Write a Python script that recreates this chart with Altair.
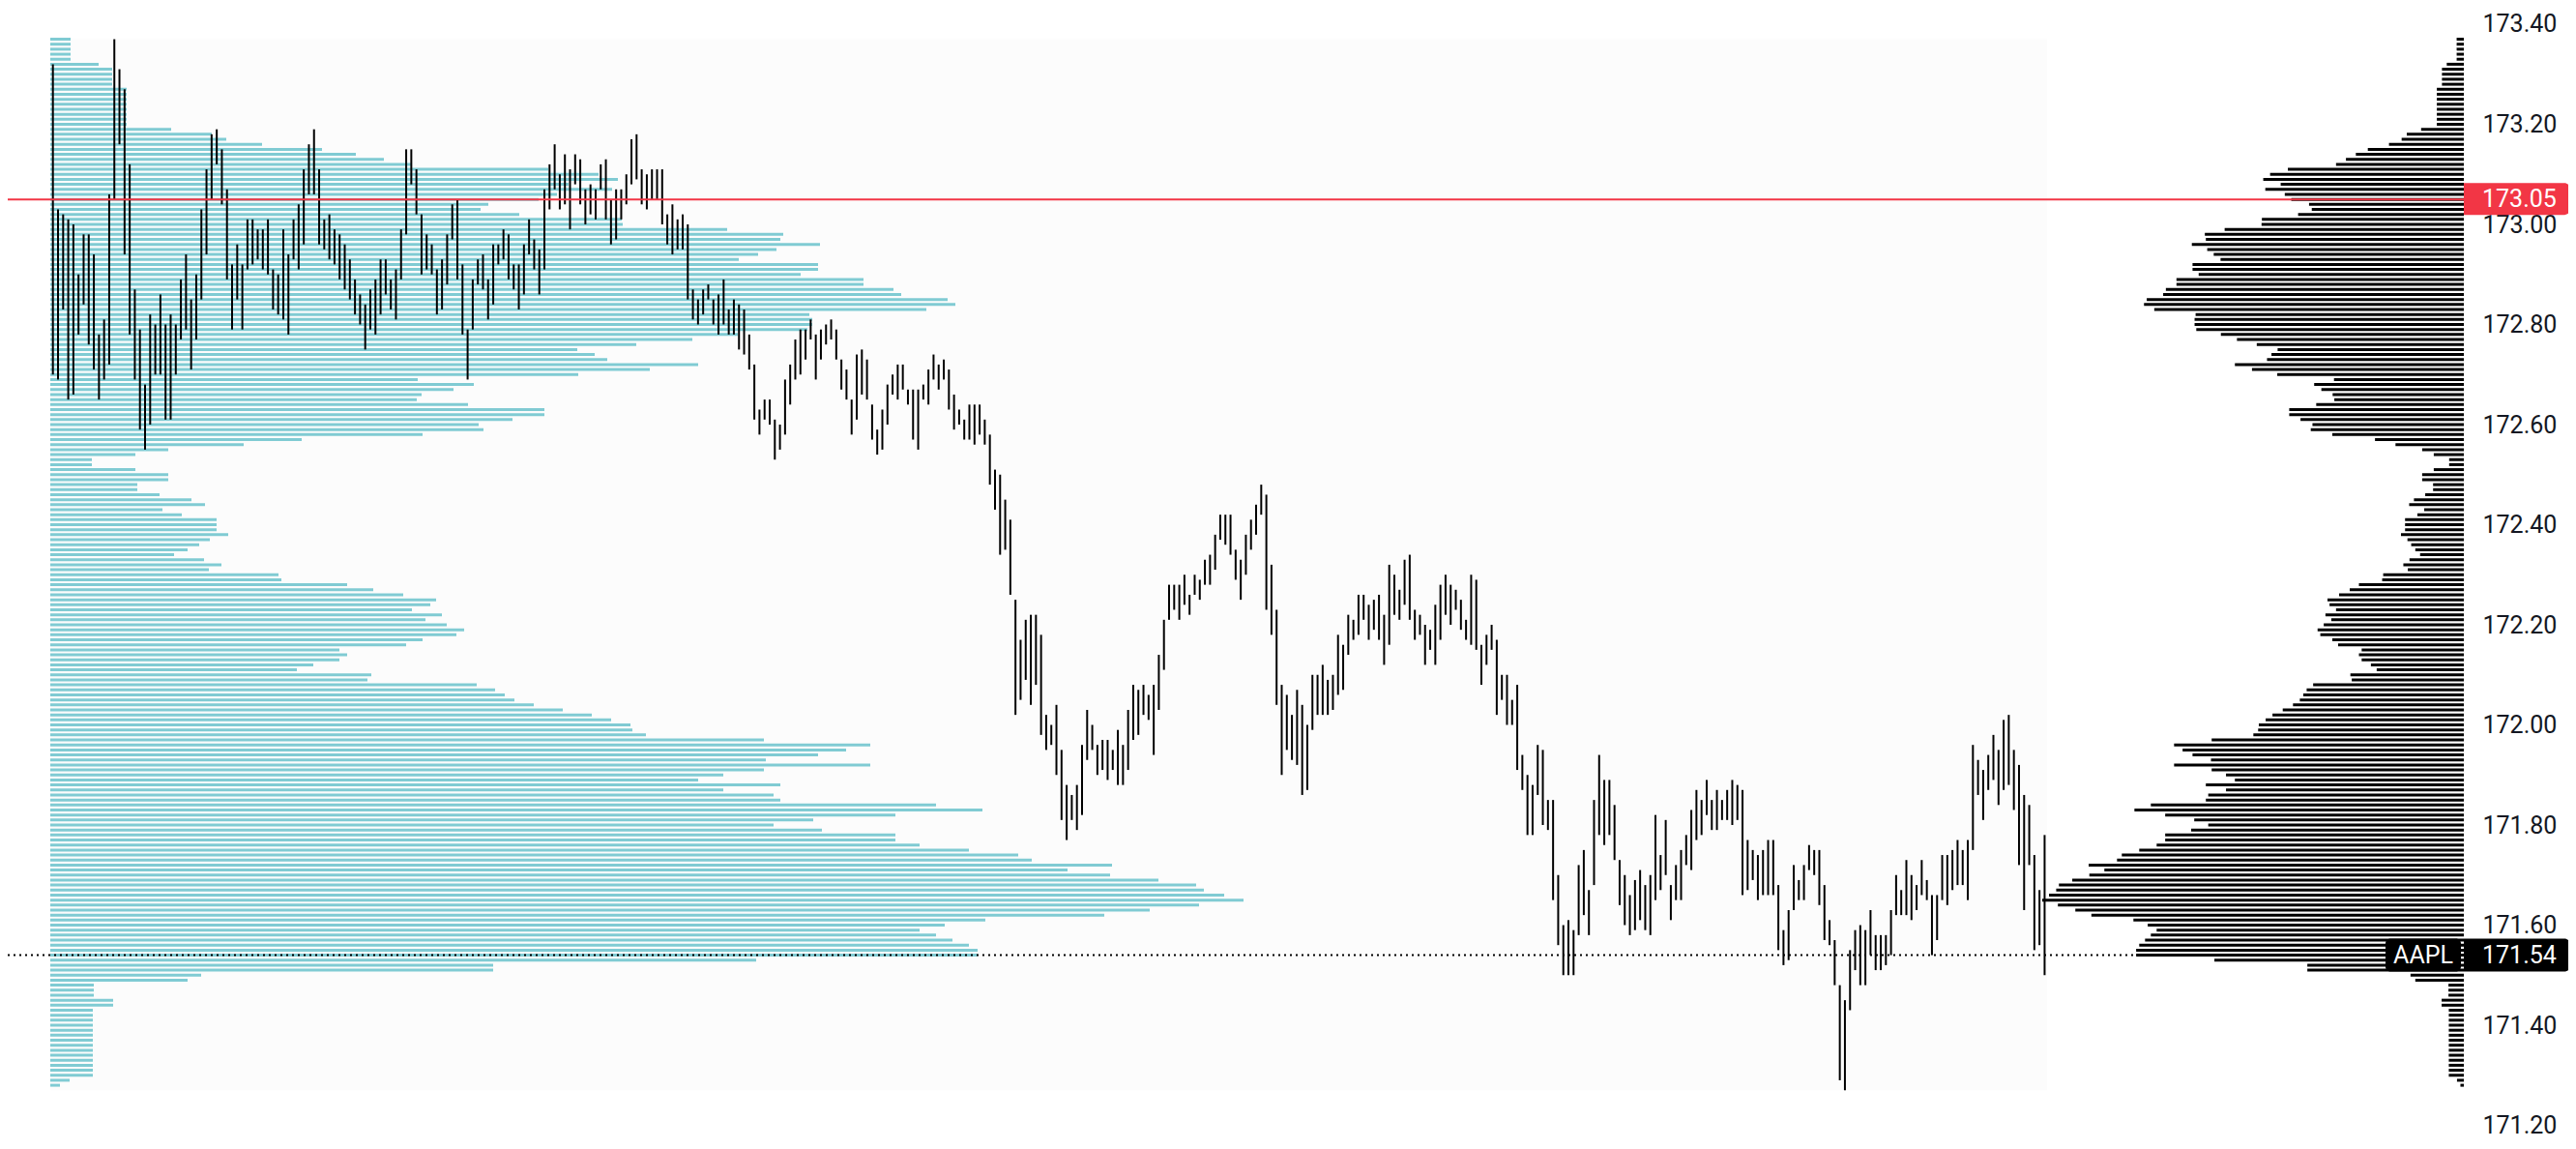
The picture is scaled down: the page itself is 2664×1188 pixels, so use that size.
import altair as alt
import pandas as pd
import numpy as np

# ---------------- data ----------------
highs = [173.32,173.03,173.02,173.01,173.00,172.90,172.98,172.98,172.94,172.78,
         172.81,173.06,173.37,173.31,173.27,173.12,172.87,172.79,172.68,172.82,
         172.80,172.86,172.80,172.82,172.80,172.89,172.94,172.85,172.90,173.03,
         173.11,173.18,173.19,173.15,173.07,172.92,172.96,172.92,173.01,173.01,
         172.99,172.99,173.01,172.91,172.90,172.99,172.94,173.01,173.04,173.11,
         173.16,173.19,173.11,173.01,173.02,172.99,172.98,172.96,172.93,172.89,
         172.86,172.84,172.87,172.89,172.93,172.93,172.89,172.91,172.99,173.15,
         173.15,173.11,173.02,172.98,172.96,172.91,172.93,172.98,173.04,173.05,
         172.92,172.79,172.89,172.93,172.94,172.89,172.96,172.96,172.99,172.98,
         172.92,172.92,172.96,173.01,172.97,172.95,173.07,173.12,173.16,173.10,
         173.14,173.11,173.14,173.13,173.07,173.08,173.07,173.12,173.13,173.05,
         173.07,173.07,173.10,173.17,173.18,173.11,173.10,173.11,173.11,173.11,
         173.02,173.04,173.01,173.02,173.00,172.87,172.85,172.87,172.88,172.85,
         172.86,172.89,172.83,172.85,172.84,172.83,172.78,172.72,172.63,172.65,
         172.65,172.61,172.60,172.69,172.72,172.77,172.79,172.79,172.81,172.78,
         172.79,172.80,172.81,172.79,172.73,172.71,172.65,172.74,172.75,172.73,
         172.64,172.59,172.63,172.68,172.70,172.72,172.72,172.67,172.67,172.67,
         172.68,172.71,172.74,172.72,172.73,172.71,172.66,172.63,172.61,172.64,
         172.64,172.64,172.61,172.58,172.51,172.50,172.45,172.41,172.25,172.17,
         172.21,172.22,172.22,172.18,172.02,172.00,172.04,171.95,171.88,171.86,
         171.88,171.96,172.03,172.00,171.96,171.97,171.97,171.95,171.99,171.96,
         172.03,172.08,172.07,172.08,172.06,172.08,172.14,172.21,172.28,172.28,
         172.28,172.30,172.26,172.30,172.29,172.33,172.34,172.38,172.42,172.42,
         172.42,172.35,172.33,172.38,172.41,172.44,172.48,172.46,172.32,172.23,
         172.08,172.06,172.02,172.07,172.04,172.00,172.10,172.10,172.12,172.09,
         172.10,172.18,172.16,172.22,172.21,172.26,172.26,172.24,172.25,172.26,
         172.22,172.32,172.30,172.27,172.33,172.34,172.23,172.22,172.20,172.19,
         172.24,172.28,172.30,172.28,172.27,172.25,172.21,172.30,172.29,172.16,
         172.18,172.20,172.17,172.10,172.10,172.05,172.08,171.94,171.90,171.88,
         171.96,171.95,171.85,171.85,171.70,171.60,171.61,171.59,171.72,171.75,
         171.67,171.85,171.94,171.89,171.89,171.84,171.73,171.70,171.66,171.69,
         171.71,171.68,171.70,171.82,171.74,171.81,171.68,171.72,171.75,171.78,
         171.83,171.87,171.85,171.89,171.85,171.87,171.85,171.87,171.89,171.88,
         171.87,171.77,171.75,171.74,171.75,171.77,171.77,171.68,171.59,171.63,
         171.72,171.69,171.72,171.76,171.75,171.75,171.68,171.61,171.57,171.48,
         171.45,171.55,171.59,171.60,171.59,171.63,171.58,171.58,171.58,171.63,
         171.70,171.67,171.73,171.70,171.68,171.73,171.69,171.66,171.66,171.74,
         171.74,171.75,171.77,171.75,171.77,171.96,171.93,171.91,171.94,171.98,
         171.95,172.01,172.02,171.95,171.92,171.86,171.84,171.74,171.67,171.78]

lows = [172.70,172.69,172.83,172.65,172.66,172.78,172.84,172.76,172.71,172.65,
        172.69,172.72,173.05,173.16,172.94,172.78,172.69,172.59,172.55,172.60,
        172.70,172.70,172.61,172.61,172.70,172.77,172.79,172.71,172.77,172.85,
        172.94,173.05,173.12,173.04,172.89,172.79,172.85,172.79,172.91,172.92,
        172.93,172.91,172.90,172.83,172.82,172.81,172.78,172.93,172.91,172.96,
        173.06,173.06,172.96,172.95,172.93,172.92,172.89,172.87,172.85,172.82,
        172.80,172.75,172.79,172.78,172.82,172.86,172.83,172.81,172.89,172.98,
        173.08,173.02,172.90,172.91,172.90,172.82,172.83,172.88,172.97,172.89,
        172.78,172.69,172.79,172.88,172.87,172.81,172.84,172.92,172.93,172.89,
        172.87,172.83,172.86,172.94,172.91,172.86,172.91,173.03,173.07,173.03,
        173.04,172.99,173.08,173.04,173.00,173.02,173.01,173.07,173.01,172.96,
        172.97,173.01,173.04,173.08,173.09,173.04,173.03,173.05,173.05,173.00,
        172.96,172.94,172.95,172.95,172.85,172.81,172.80,172.82,172.85,172.80,
        172.78,172.80,172.78,172.78,172.75,172.74,172.71,172.61,172.58,172.61,
        172.60,172.53,172.55,172.58,172.64,172.69,172.70,172.73,172.77,172.69,
        172.73,172.76,172.77,172.73,172.67,172.65,172.58,172.61,172.66,172.65,
        172.57,172.54,172.55,172.60,172.66,172.65,172.67,172.64,172.57,172.55,
        172.65,172.64,172.69,172.67,172.69,172.63,172.59,172.60,172.57,172.57,
        172.56,172.58,172.56,172.48,172.43,172.34,172.35,172.26,172.02,172.05,
        172.09,172.04,172.08,171.98,171.95,171.96,171.90,171.81,171.77,171.81,
        171.79,171.82,171.93,171.95,171.90,171.91,171.89,171.91,171.88,171.88,
        171.91,171.97,171.98,172.02,172.01,171.94,172.03,172.11,172.21,172.23,
        172.21,172.24,172.22,172.26,172.25,172.28,172.28,172.31,172.37,172.36,
        172.34,172.29,172.25,172.30,172.35,172.38,172.42,172.23,172.18,172.04,
        171.90,171.95,171.93,171.92,171.86,171.87,171.99,172.02,172.02,172.02,
        172.03,172.06,172.07,172.14,172.17,172.18,172.21,172.17,172.19,172.17,
        172.12,172.16,172.22,172.21,172.24,172.21,172.17,172.18,172.12,172.15,
        172.12,172.17,172.22,172.20,172.23,172.19,172.17,172.16,172.15,172.08,
        172.12,172.15,172.02,172.05,172.00,172.00,171.91,171.87,171.78,171.78,
        171.86,171.80,171.79,171.65,171.56,171.50,171.50,171.50,171.58,171.62,
        171.58,171.68,171.78,171.76,171.78,171.73,171.64,171.60,171.58,171.59,
        171.61,171.59,171.58,171.65,171.67,171.70,171.61,171.65,171.65,171.72,
        171.71,171.77,171.78,171.82,171.79,171.79,171.81,171.81,171.80,171.81,
        171.66,171.67,171.69,171.65,171.66,171.66,171.66,171.55,171.52,171.53,
        171.63,171.65,171.65,171.71,171.70,171.64,171.57,171.56,171.48,171.29,
        171.27,171.43,171.51,171.48,171.48,171.54,171.51,171.51,171.52,171.54,
        171.62,171.62,171.62,171.61,171.63,171.66,171.65,171.54,171.57,171.65,
        171.64,171.67,171.68,171.68,171.65,171.75,171.86,171.81,171.87,171.89,
        171.84,171.87,171.88,171.83,171.72,171.63,171.72,171.55,171.56,171.50]

# volume profile, one row per cent, from 173.37 down to 171.28
profile_top = 173.37
profile_vol = [21,21,21,21,21,50,64,64,64,64,
               79,79,79,79,79,79,79,79,125,167,
               182,219,281,316,345,374,515,567,587,536,
               581,524,505,453,445,485,591,592,700,758,
               755,796,751,732,712,794,794,776,841,841,
               872,880,928,936,906,785,788,788,783,711,
               664,606,545,563,576,670,620,546,380,438,
               417,384,379,432,511,511,478,443,448,385,
               260,200,122,88,43,43,88,122,122,90,
               90,113,146,160,116,136,172,172,172,184,
               165,154,142,128,159,177,164,236,239,307,
               334,365,399,393,374,405,388,410,428,420,
               385,368,299,307,299,272,255,332,328,441,
               460,470,480,500,530,560,580,600,602,616,
               738,848,823,794,740,848,738,696,670,755,
               696,748,755,916,964,874,789,748,798,874,
               874,899,950,1001,1015,1098,1052,1096,1146,1185,
               1193,1214,1234,1188,1137,1090,967,925,899,916,
               933,950,959,959,730,458,458,156,142,45,
               45,45,65,65,44,44,44,44,44,44,
               44,44,44,44,44,44,44,44,20,10]

tick_values = [171.20, 171.40, 171.60, 171.80, 172.00, 172.20,
               172.40, 172.60, 172.80, 173.00, 173.20, 173.40]
alert_price = 173.05
last_price = 171.54
symbol = "AAPL"

# ---------------- frames ----------------
n = len(highs)
bars = pd.DataFrame({"i": np.arange(n), "high": highs, "low": lows})
levels = np.round(profile_top - 0.01 * np.arange(len(profile_vol)), 2)
prof = pd.DataFrame({"price": levels, "vol": profile_vol, "base": 0})
bg = pd.DataFrame({"x0": [-0.5], "x1": [n - 0.5],
                   "y0": [min(lows)], "y1": [max(highs)]})
alert = pd.DataFrame({"price": [alert_price], "label": [f"{alert_price:.2f}"]})
last = pd.DataFrame({"price": [last_price], "label": [f"{last_price:.2f}"],
                     "sym": [symbol]})

# ---------------- styling ----------------
W, H = 2540, 1172
FONT = "Roboto"
CYAN = "#80cbd3"
RED = "#f23645"
TXT = "#131722"

y_dom = [171.16812, 173.43285]
x_dom = [-8.82, 470.88]
ysc = alt.Scale(domain=y_dom, nice=False, zero=False)
xsc = alt.Scale(domain=x_dom, nice=False, zero=False)

y_axis = alt.Axis(orient="right", values=tick_values, format=".2f",
                  labelFont=FONT, labelFontSize=25, labelColor=TXT,
                  ticks=False, tickSize=0, domain=False, grid=False,
                  labelPadding=19, labelAlign="left",
                  labelBaseline="middle", labelOverlap=False, title=None)

def Y(field):
    return alt.Y(field, type="quantitative", scale=ysc, axis=y_axis, title=None)

background = alt.Chart(bg).mark_rect(color="#fcfcfc").encode(
    x=alt.X("x0:Q", scale=xsc, axis=None), x2="x1:Q",
    y=Y("y0"), y2="y1")

left_profile = alt.Chart(prof).mark_rule(color=CYAN, strokeWidth=3).encode(
    x=alt.X("base:Q", scale=alt.Scale(domain=[-44, 2496], nice=False, zero=False), axis=None),
    x2="vol:Q",
    y=Y("price"))

price_bars = alt.Chart(bars).mark_rule(color="#000000", strokeWidth=2).encode(
    x=alt.X("i:Q", scale=xsc, axis=None),
    y=Y("high"),
    y2="low")

right_profile = alt.Chart(prof).mark_rule(color="#000000", strokeWidth=3).encode(
    x=alt.X("base:Q", scale=alt.Scale(domain=[0, 7188], reverse=True, nice=False, zero=False), axis=None),
    x2="vol:Q",
    y=Y("price"))

alert_line = alt.Chart(alert).mark_rule(color=RED, strokeWidth=2).encode(
    x=alt.value(0), x2=alt.value(W), y=Y("price"))

last_line = alt.Chart(last).mark_rule(color="#000000", strokeWidth=2,
                                      strokeDash=[2, 4]).encode(
    x=alt.value(0), x2=alt.value(W - 81), y=Y("price"))

alert_box = alt.Chart(alert).mark_rect(color=RED, yOffset=-17, y2Offset=16,
                                       cornerRadiusTopRight=6,
                                       cornerRadiusBottomRight=6).encode(
    x=alt.value(W), x2=alt.value(W + 110), y=Y("price"), y2="price")
alert_text = alt.Chart(alert).mark_text(color="white", font=FONT, fontSize=25,
                                        align="left", baseline="middle").encode(
    x=alt.value(W + 19), y=Y("price"), text="label:N")

last_box = alt.Chart(last).mark_rect(color="#000000", yOffset=-17, y2Offset=17,
                                     cornerRadiusTopRight=6,
                                     cornerRadiusBottomRight=6).encode(
    x=alt.value(W), x2=alt.value(W + 110), y=Y("price"), y2="price")
last_text = alt.Chart(last).mark_text(color="white", font=FONT, fontSize=25,
                                      align="left", baseline="middle").encode(
    x=alt.value(W + 19), y=Y("price"), text="label:N")
sym_box = alt.Chart(last).mark_rect(color="#000000", yOffset=-17, y2Offset=17,
                                    cornerRadius=5).encode(
    x=alt.value(W - 81), x2=alt.value(W - 3), y=Y("price"), y2="price")
sym_text = alt.Chart(last).mark_text(color="white", font=FONT, fontSize=25,
                                     align="center", baseline="middle").encode(
    x=alt.value(W - 42), y=Y("price"), text="sym:N")

chart = alt.layer(
    background, left_profile, price_bars, right_profile,
    alert_line, last_line, alert_box, alert_text,
    sym_box, sym_text, last_box, last_text
).resolve_scale(x="independent").properties(
    width=W, height=H,
    autosize=alt.AutoSizeParams(type="none"),
    padding={"left": 0, "top": 0, "right": 108, "bottom": 0},
    background="white"
).configure_view(stroke=None)

chart.save("out.html", embed_options={"renderer": "svg", "actions": False})
